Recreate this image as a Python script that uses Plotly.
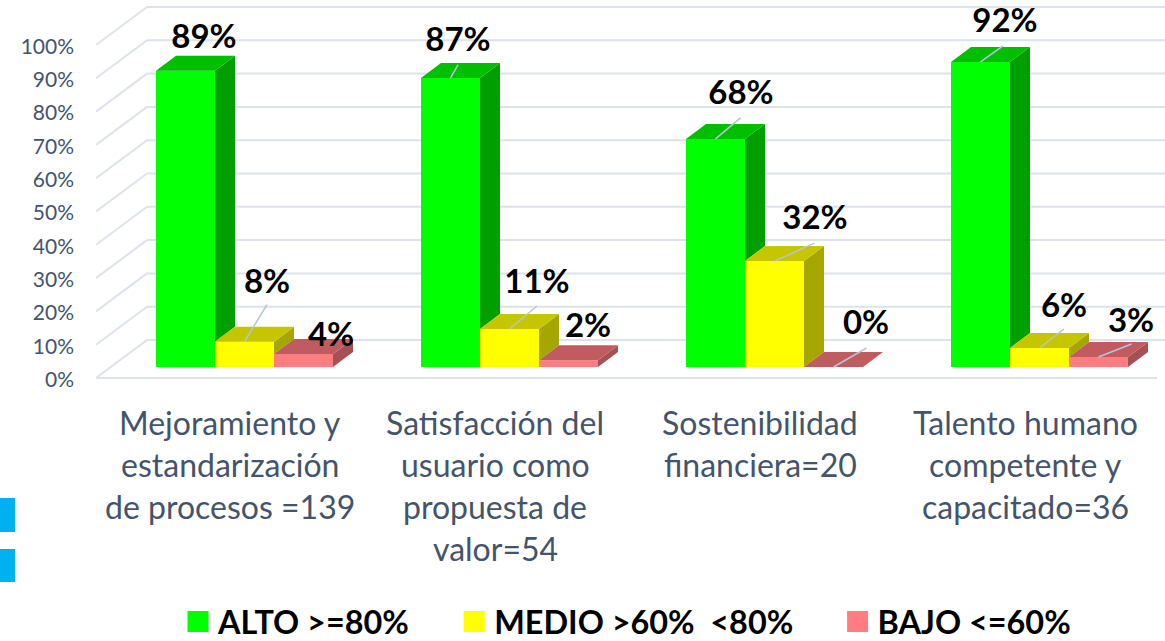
import plotly.graph_objects as go

# ---- data ----
categories = [
    ["Mejoramiento y", "estandarización", "de procesos =139"],
    ["Satisfacción del", "usuario como", "propuesta de", "valor=54"],
    ["Sostenibilidad", "financiera=20"],
    ["Talento humano", "competente y", "capacitado=36"],
]
series_names = ["ALTO >=80%", "MEDIO >60%  <80%", "BAJO <=60%"]
alto = [89, 86.8, 68.5, 91.6]
medio = [7.6, 11.4, 31.8, 5.7]
bajo = [3.9, 2, 0, 3]
alto_labels = ["89%", "87%", "68%", "92%"]
medio_labels = ["8%", "11%", "32%", "6%"]
bajo_labels = ["4%", "2%", "0%", "3%"]
y_ticks = [0, 10, 20, 30, 40, 50, 60, 70, 80, 90, 100]

# ---- style: colours per series (front, side, top) ----
front = ["#00FF00", "#FFFF00", "#FF7C80"]
side = ["#009F00", "#A6A600", "#A65055"]
top = ["#00BF00", "#C6C600", "#C05C60"]
AXIS_TXT = "#44546A"
GRID = "#DEE2EA"
LEADER = "#B8C4D6"
FONT = "Lato"

# ---- geometry (px) ----
W, H = 1165, 641
PX_X = 265.0          # px per category
PX_Y = 3.33           # px per percent
ORIGIN_X = 244.5      # px of first category centre
ORIGIN_Y = 367.0      # px of front bar base
BAR_W = 59.0
DEPTH_X, DEPTH_Y = 20.0, 15.0
FRONT_FLOOR = 378.0
BACK_FLOOR = 340.0
TICK_NUDGE = 1.5      # px, tick text centring
LABEL_NUDGE = 4.0     # px, data label centring
WALL_X0, WALL_X1, WALL_X2 = 96.0, 147.0, 1165.0
FLOOR_END = 1157.0

def ux(px):
    return (px - ORIGIN_X) / PX_X

def uy(px):
    return (ORIGIN_Y - px) / PX_Y

dx, dy = DEPTH_X / PX_X, DEPTH_Y / PX_Y
bw = BAR_W / PX_X
front_shift = uy(FRONT_FLOOR)
back_shift = uy(BACK_FLOOR)
tick_shift = uy(FRONT_FLOOR + TICK_NUDGE)
series = [alto, medio, bajo]
labels = [alto_labels, medio_labels, bajo_labels]
xs = list(range(len(categories)))

# label offsets from bar top centre (px right, px up), per series then category
label_off = [
    [(18.5, 34.6), (7.5, 39), (25.5, 47), (24.5, 42)],
    [(22.5, 60.7), (27.5, 48), (40.5, 44), (24.5, 43)],
    [(27.5, 20), (19.5, 36), (32.5, 45), (32.5, 37)],
]
leader_off = [
    [None, (7.5, 13), (25, 21), (22.5, 16)],
    [(22.5, 37), (27.5, 23), (40, 18), (24.5, 19)],
    [None, None, (33, 19), (33, 13)],
]

fig = go.Figure()

# front faces
for s, vals in enumerate(series):
    fig.add_bar(x=xs, y=vals, name=series_names[s], marker=dict(color=front[s], line=dict(width=0)),
                showlegend=False, hoverinfo="skip")

# side and top faces
for s, vals in enumerate(series):
    sx, sy, tx, ty = [], [], [], []
    for i, v in enumerate(vals):
        left = i + (s - 1) * bw - bw / 2
        right = left + bw
        nxt = series[s + 1][i] if s + 1 < len(series) else 0
        sx += [right, right + dx, right + dx, right, right, None]
        sy += [nxt, nxt + dy, v + dy, v, nxt, None]
        tx += [left, left + dx, right + dx, right, left, None]
        ty += [v, v + dy, v + dy, v, v, None]
    for px_, py_, col in ((sx, sy, side[s]), (tx, ty, top[s])):
        fig.add_scatter(x=px_, y=py_, mode="lines", fill="toself", fillcolor=col,
                        line=dict(width=0, color=col), showlegend=False, hoverinfo="skip")

# leader lines
lx, ly = [], []
for s, vals in enumerate(series):
    for i, v in enumerate(vals):
        off = leader_off[s][i]
        if off is None:
            continue
        c = i + (s - 1) * bw
        lx += [c, c + off[0] / PX_X, None]
        ly += [v, v + off[1] / PX_Y, None]
fig.add_scatter(x=lx, y=ly, mode="lines", line=dict(color=LEADER, width=1.5),
                showlegend=False, hoverinfo="skip")

# data labels
for s, vals in enumerate(series):
    fig.add_scatter(
        x=[i + (s - 1) * bw + label_off[s][i][0] / PX_X for i in xs],
        y=[v + (label_off[s][i][1] - LABEL_NUDGE) / PX_Y for i, v in enumerate(vals)],
        text=labels[s], mode="text", textposition="middle center",
        textfont=dict(family=FONT, size=33, color="#000000", weight="bold"),
        showlegend=False, hoverinfo="skip", cliponaxis=False)

# empty trace so the front value axis is drawn
fig.add_scatter(x=[xs[0]] * len(y_ticks), y=y_ticks, yaxis="y2", mode="markers",
                marker=dict(opacity=0), showlegend=False, hoverinfo="skip")

# legend entries
pad = ["\u00a0" * 5, "\u00a0" * 5, ""]
for s, name in enumerate(series_names):
    fig.add_scatter(x=[None], y=[None], mode="markers", name=name.replace("  ", "\u00a0\u00a0") + pad[s],
                    marker=dict(symbol="square", size=16, color=front[s], line=dict(width=5, color=front[s])),
                    hoverinfo="skip")

# walls and floor, drawn behind the bars
shapes = []
line = dict(color=GRID, width=2)
for t in y_ticks:
    yf, yb = t + front_shift, t + back_shift
    shapes.append(dict(type="line", layer="below", xref="x", yref="y", x0=ux(WALL_X0), y0=yf,
                       x1=ux(WALL_X1), y1=yb, line=line))
    shapes.append(dict(type="line", layer="below", xref="x", yref="y", x0=ux(WALL_X1), y0=yb,
                       x1=ux(WALL_X2), y1=yb, line=line))
shapes.append(dict(type="line", layer="below", xref="x", yref="y", x0=ux(WALL_X0), y0=front_shift,
                   x1=ux(FLOOR_END), y1=front_shift, line=line))
# cyan marks at the left edge
for y0, y1 in ((498, 532), (549, 582)):
    shapes.append(dict(type="rect", xref="paper", yref="paper", x0=0, x1=15 / W,
                       y0=1 - y1 / H, y1=1 - y0 / H, fillcolor="#00B0F0", line=dict(width=0)))

# category labels, one annotation per line
LINE_H = 42
annotations = []
for i, lines in enumerate(categories):
    for k, txt in enumerate(lines):
        annotations.append(dict(
            text=txt, x=i, xref="x", xshift=-14.5, xanchor="center",
            y=1 - (422 + k * LINE_H) / H, yref="paper", yanchor="middle",
            showarrow=False, font=dict(family=FONT, size=32, color=AXIS_TXT)))

fig.update_layout(
    width=W, height=H, margin=dict(l=0, r=0, t=0, b=0, pad=0, autoexpand=False),
    paper_bgcolor="white", plot_bgcolor="rgba(0,0,0,0)",
    barmode="group", bargap=1 - 3 * bw, bargroupgap=0,
    font=dict(family=FONT),
    xaxis=dict(range=[ux(0), ux(W)], visible=False, fixedrange=True),
    yaxis=dict(range=[uy(H), uy(0)], visible=False, fixedrange=True),
    yaxis2=dict(range=[uy(H) - tick_shift, uy(0) - tick_shift], overlaying="y", anchor="free",
                position=74 / W, side="left", tickmode="array", tickvals=y_ticks,
                ticktext=[f"{t}%" for t in y_ticks], showgrid=False, zeroline=False, showline=False,
                ticks="", tickfont=dict(family=FONT, size=21, color=AXIS_TXT), fixedrange=True),
    showlegend=True,
    legend=dict(orientation="h", x=178 / W, xanchor="left", y=1 - 622 / H, yanchor="middle",
                itemwidth=30, font=dict(family=FONT, size=32.4, color="#000000", weight="bold"),
                bgcolor="rgba(0,0,0,0)", traceorder="normal", itemsizing="trace"),
    shapes=shapes, annotations=annotations,
)

fig.write_html("out.html", config=dict(displayModeBar=False),
               post_script=("document.documentElement.style.cssText='margin:0;height:641px;overflow:hidden';"
                            "document.body.style.cssText='margin:0;height:641px;overflow:hidden';"))
